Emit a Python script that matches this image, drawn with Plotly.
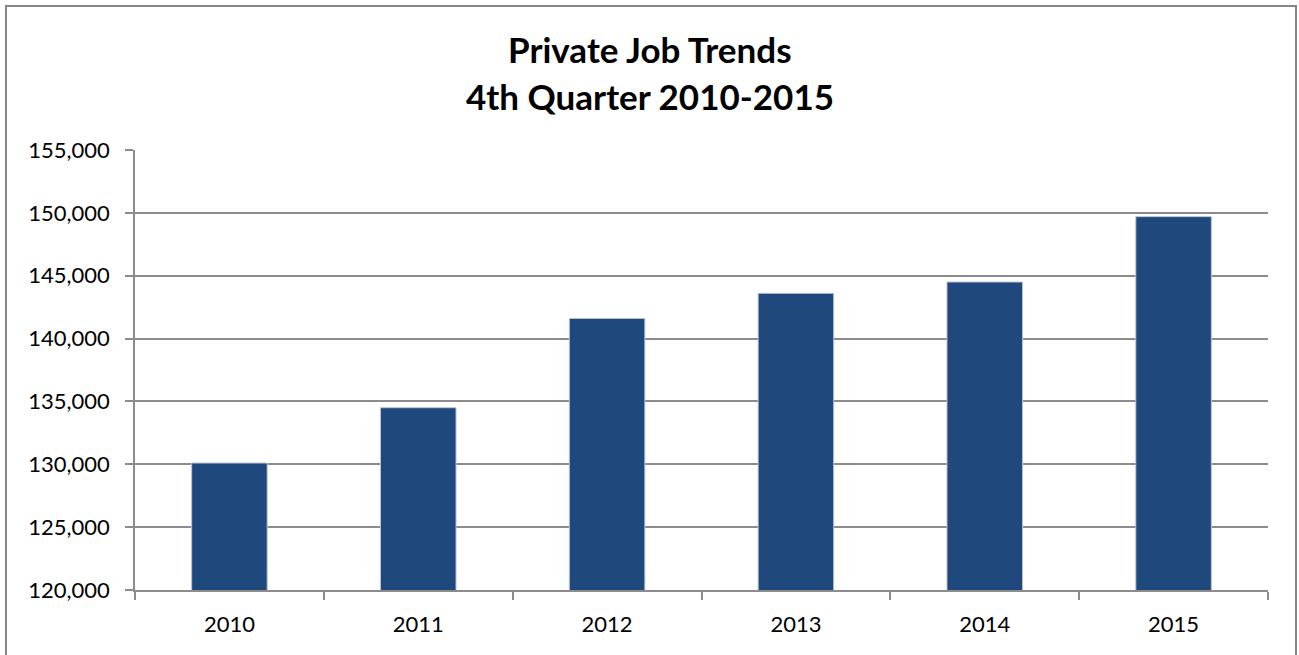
import plotly.graph_objects as go

years = ["2010", "2011", "2012", "2013", "2014", "2015"]
jobs = [130100, 134500, 141600, 143600, 144500, 149700]
y_ticks = [120000, 125000, 130000, 135000, 140000, 145000, 150000, 155000]
y_tick_labels = ["120,000", "125,000", "130,000", "135,000", "140,000", "145,000", "150,000", "155,000"]

W, H = 1299, 655
ml, mr, mt, mb = 135, 31, 150, 65
pw, ph = W - ml - mr, H - mt - mb

def px_x(p):
    return (p - ml) / pw

def px_y(p):
    return (H - mb - p) / ph

fig = go.Figure(go.Bar(
    x=years, y=jobs, width=0.4,
    marker=dict(color="#1F497D", line=dict(color="#BAC4D6", width=1)),
))

grid = "#8C8C8C"
fig.update_layout(
    width=W, height=H,
    margin=dict(l=ml, r=mr, t=mt, b=mb),
    paper_bgcolor="white", plot_bgcolor="white",
    font=dict(family="Lato", color="black", size=22),
    showlegend=False,
    xaxis=dict(
        type="category", tickson="boundaries", ticks="outside", ticklen=8,
        tickcolor=grid, tickwidth=1.5, showline=True, linecolor=grid, linewidth=1.5,
        showgrid=False, tickfont=dict(size=22), ticklabelstandoff=14,
    ),
    yaxis=dict(
        range=[120000, 155000], tickvals=y_ticks, ticktext=y_tick_labels,
        ticks="outside", ticklen=8, tickcolor=grid, tickwidth=1.5,
        showline=True, linecolor=grid, linewidth=1.5,
        showgrid=True, gridcolor=grid, gridwidth=1.5, zeroline=False,
        tickfont=dict(size=22), ticklabelstandoff=11,
    ),
    annotations=[
        dict(text="<b>Private Job Trends</b>", xref="paper", yref="paper",
             x=px_x(650), y=px_y(49), showarrow=False, xanchor="center", yanchor="middle",
             font=dict(family="Lato", size=35, color="black")),
        dict(text="<b>4th Quarter 2010-2015</b>", xref="paper", yref="paper",
             x=px_x(650), y=px_y(96), showarrow=False, xanchor="center", yanchor="middle",
             font=dict(family="Lato", size=35, color="black")),
    ],
    shapes=[
        dict(type="rect", xref="paper", yref="paper",
             x0=px_x(6), x1=px_x(1296), y0=px_y(6), y1=px_y(670),
             line=dict(color="#868686", width=2), fillcolor="rgba(0,0,0,0)", layer="above"),
    ],
)

fig.write_html("out.html", config={"displayModeBar": False},
               post_script="document.body.style.margin='0px';")
